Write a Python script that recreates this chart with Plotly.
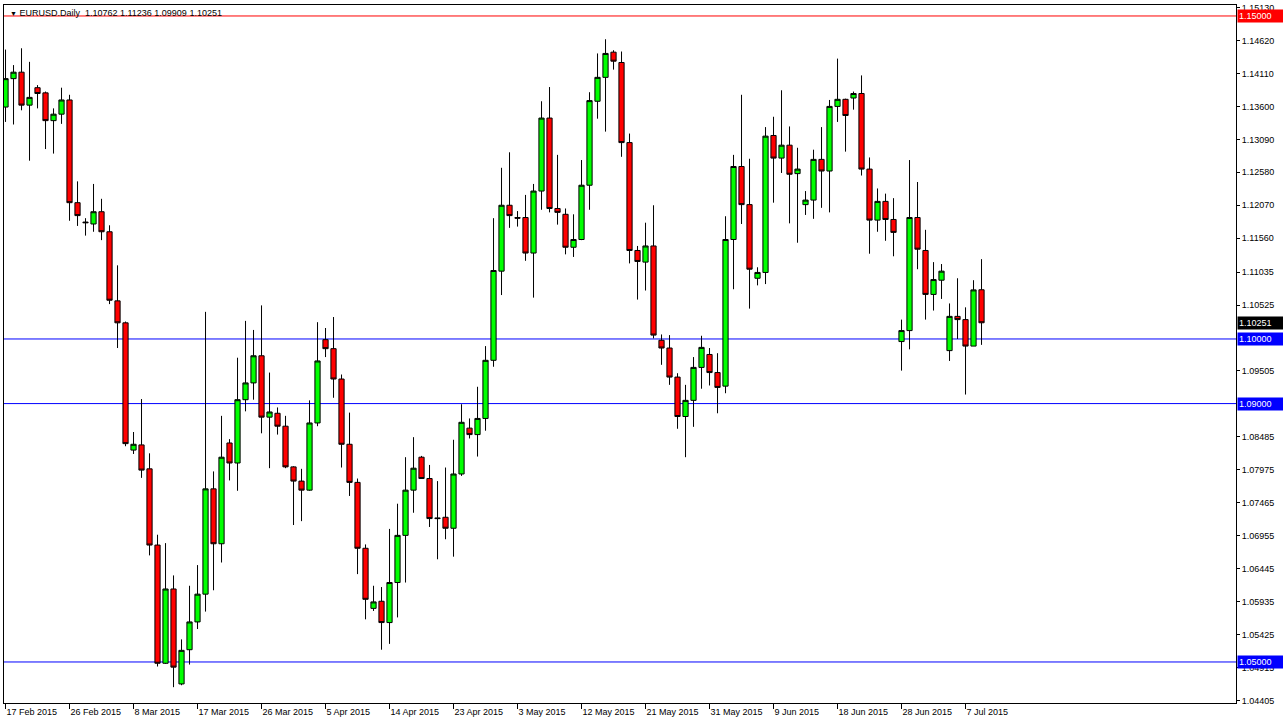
import datetime as dt
import plotly.graph_objects as go

# ---- data (EURUSD daily) ----
opens = [1.1359, 1.1403, 1.1413, 1.1362, 1.1389, 1.1381, 1.1338, 1.1348, 1.1370, 1.1211,
         1.1181, 1.1178, 1.1197, 1.1166, 1.1059, 1.1025, 1.0828, 1.0836, 1.0799, 1.0681,
         1.0498, 1.0613, 1.0466, 1.0519, 1.0562, 1.0605, 1.0768, 1.0683, 1.0839, 1.0808,
         1.0906, 1.0932, 1.0974, 1.0879, 1.0885, 1.0865, 1.0802, 1.0780, 1.0766, 1.0870,
         1.0999, 1.0985, 1.0938, 1.0837, 1.0778, 1.0676, 1.0583, 1.0594, 1.0561, 1.0623,
         1.0696, 1.0766, 1.0817, 1.0784, 1.0723, 1.0724, 1.0707, 1.0791, 1.0862, 1.0852,
         1.0877, 1.0967, 1.1105, 1.1207, 1.1188, 1.1188, 1.1133, 1.1229, 1.1342, 1.1202,
         1.1193, 1.1142, 1.1154, 1.1238, 1.1368, 1.1405, 1.1444, 1.1428, 1.1304, 1.1137,
         1.1119, 1.1144, 1.0998, 1.0986, 1.0941, 1.0880, 1.0905, 1.0956, 1.0976, 1.0948,
         1.0927, 1.1154, 1.1267, 1.1208, 1.1094, 1.1103, 1.1315, 1.1280, 1.1300, 1.1256,
         1.1208, 1.1215, 1.1278, 1.1260, 1.1360, 1.1371, 1.1373, 1.1380, 1.1263, 1.1184,
         1.1213, 1.1185, 1.0996, 1.1013, 1.1188, 1.1137, 1.1069, 1.1091, 1.0982, 1.1035,
         1.1030, 1.0989, 1.10762]
highs = [1.1448, 1.1424, 1.1450, 1.1429, 1.1393, 1.1383, 1.1357, 1.1389, 1.1378, 1.1244,
         1.1187, 1.1240, 1.1217, 1.1176, 1.1114, 1.1027, 1.0856, 1.0907, 1.0823, 1.0697,
         1.0684, 1.0634, 1.0535, 1.0618, 1.0650, 1.1042, 1.0795, 1.0881, 1.0845, 1.0971,
         1.1028, 1.1014, 1.1052, 1.0948, 1.0894, 1.0881, 1.0803, 1.0799, 1.0905, 1.1026,
         1.1017, 1.1034, 1.0945, 1.0886, 1.0784, 1.0682, 1.0618, 1.0616, 1.0706, 1.0745,
         1.0817, 1.0848, 1.0819, 1.0805, 1.0780, 1.0801, 1.0844, 1.0899, 1.0877, 1.0926,
         1.0989, 1.1187, 1.1265, 1.1289, 1.1198, 1.1223, 1.1240, 1.1368, 1.1390, 1.1285,
         1.1202, 1.1193, 1.1277, 1.1382, 1.1442, 1.1464, 1.1447, 1.1445, 1.1318, 1.1144,
         1.1180, 1.1207, 1.1007, 1.1006, 1.0947, 1.0929, 1.0972, 1.1005, 1.0986, 1.0978,
         1.1190, 1.1285, 1.1378, 1.1279, 1.1111, 1.1328, 1.1344, 1.1385, 1.1329, 1.1296,
         1.1229, 1.1293, 1.1328, 1.1370, 1.1434, 1.1372, 1.1383, 1.1408, 1.1281, 1.1233,
         1.1225, 1.1218, 1.1030, 1.1277, 1.1243, 1.1169, 1.1119, 1.1116, 1.1055, 1.1094,
         1.1049, 1.1091, 1.11236]
lows = [1.1336, 1.1332, 1.1354, 1.1276, 1.1357, 1.1294, 1.1287, 1.1333, 1.1183, 1.1175,
        1.1160, 1.1166, 1.1153, 1.1054, 1.0986, 1.0834, 1.0822, 1.0785, 1.0665, 1.0493,
        1.0497, 1.0461, 1.0464, 1.0496, 1.0551, 1.0578, 1.0611, 1.0654, 1.0781, 1.0765,
        1.0888, 1.0906, 1.0854, 1.0800, 1.0852, 1.0800, 1.0712, 1.0718, 1.0765, 1.0865,
        1.0972, 1.0909, 1.0801, 1.0757, 1.0636, 1.0566, 1.0579, 1.0519, 1.0528, 1.0569,
        1.0623, 1.0731, 1.0784, 1.0709, 1.0659, 1.0690, 1.0663, 1.0788, 1.0846, 1.0818,
        1.0858, 1.0957, 1.1068, 1.1172, 1.1174, 1.1121, 1.1064, 1.1200, 1.1196, 1.1177,
        1.1131, 1.1127, 1.1153, 1.1200, 1.1341, 1.1321, 1.1417, 1.1282, 1.1117, 1.1061,
        1.1075, 1.1001, 1.0960, 1.0929, 1.0861, 1.0817, 1.0864, 1.0923, 1.0928, 1.0885,
        1.0916, 1.1077, 1.1178, 1.1047, 1.1083, 1.1085, 1.1211, 1.1257, 1.1179, 1.1149,
        1.1192, 1.1186, 1.1203, 1.1196, 1.1336, 1.1290, 1.1355, 1.1253, 1.1132, 1.1166,
        1.1152, 1.1128, 1.0951, 1.0984, 1.1108, 1.1030, 1.1044, 1.1062, 1.0966, 1.1000,
        1.0914, 1.0989, 1.09909]
closes = [1.1403, 1.1413, 1.1362, 1.1374, 1.1380, 1.1338, 1.1348, 1.1370, 1.1211, 1.1191,
          1.1180, 1.1197, 1.1166, 1.1060, 1.1025, 1.0838, 1.0837, 1.0797, 1.0681, 1.0498,
          1.0613, 1.0492, 1.0518, 1.0562, 1.0605, 1.0768, 1.0683, 1.0817, 1.0808, 1.0906,
          1.0932, 1.0974, 1.0879, 1.0887, 1.0865, 1.0802, 1.0780, 1.0766, 1.0870, 1.0966,
          1.0985, 1.0938, 1.0837, 1.0778, 1.0676, 1.0597, 1.0593, 1.0561, 1.0623, 1.0696,
          1.0766, 1.0800, 1.0784, 1.0722, 1.0722, 1.0707, 1.0791, 1.0871, 1.0852, 1.0877,
          1.0967, 1.1106, 1.1207, 1.1191, 1.1187, 1.1133, 1.1229, 1.1342, 1.1202, 1.1196,
          1.1142, 1.1154, 1.1238, 1.1369, 1.1405, 1.1442, 1.1430, 1.1304, 1.1137, 1.1120,
          1.1144, 1.1006, 1.0986, 1.0941, 1.0880, 1.0905, 1.0956, 1.0987, 1.0948, 1.0925,
          1.1154, 1.1267, 1.1208, 1.1108, 1.1103, 1.1314, 1.1280, 1.1300, 1.1255, 1.1263,
          1.1215, 1.1278, 1.1260, 1.1360, 1.1371, 1.1346, 1.1380, 1.1263, 1.1184, 1.1213,
          1.1185, 1.1165, 1.1013, 1.1188, 1.1139, 1.1069, 1.1092, 1.1105, 1.1035, 1.1030,
          1.0989, 1.1076, 1.10251]

start_date = dt.date(2015, 2, 17)
level_lines = [1.15, 1.10, 1.09, 1.05]
level_colors = ["#FF0000", "#0000FF", "#0000FF", "#0000FF"]
price_ticks = [1.15130, 1.14620, 1.14110, 1.13600, 1.13090, 1.12580, 1.12070, 1.11560,
               1.11035, 1.10525, 1.09505, 1.08485, 1.07975, 1.07465, 1.06955, 1.06445,
               1.05935, 1.05425, 1.04915, 1.04405]
symbol_title = "EURUSD.Daily"

# trading days (broker has Sunday bars, no Saturday bars)
dates = []
d = start_date
while len(dates) < len(opens):
    if d.weekday() != 5:
        dates.append(d)
    d += dt.timedelta(days=1)
idx = list(range(len(dates)))
tick_idx = idx[::8]
tick_txt = [f"{dates[i].day} {dates[i].strftime('%b %Y')}" for i in tick_idx]

FONT = "Liberation Sans, Arial, sans-serif"

fig = go.Figure()
fig.add_trace(go.Candlestick(
    x=idx, open=opens, high=highs, low=lows, close=closes,
    increasing=dict(fillcolor="#00FF00", line=dict(color="#000000", width=1)),
    decreasing=dict(fillcolor="#FF0000", line=dict(color="#000000", width=1)),
    whiskerwidth=0, hoverinfo="skip", showlegend=False,
))

for lv, col in zip(level_lines, level_colors):
    fig.add_shape(type="line", xref="paper", x0=0, x1=1, yref="y", y0=lv, y1=lv,
                  line=dict(color=col, width=1), layer="below")

# price labels on right axis
labels = [(1.15, "#FF0000"), (1.10251, "#000000"), (1.10, "#0000FF"),
          (1.09, "#0000FF"), (1.05, "#0000FF")]
for val, col in labels:
    fig.add_annotation(xref="paper", x=1, xanchor="left", xshift=1, yref="y", y=val,
                       text=f"{val:.5f}", showarrow=False, bgcolor=col,
                       font=dict(family=FONT, size=9, color="#FFFFFF"),
                       borderpad=1, width=44, align="left")

last = len(opens) - 1
fig.add_annotation(xref="paper", x=0, xanchor="left", xshift=4, yref="paper", y=1,
                   yanchor="top", yshift=-1, showarrow=False,
                   text=(f"<span style='font-size:7px'>▼</span> {symbol_title}  "
                         f"{opens[last]:.5f} {highs[last]:.5f} {lows[last]:.5f} {closes[last]:.5f}"),
                   font=dict(family=FONT, size=9, color="#000000"))

fig.update_layout(
    width=1283, height=724,
    margin=dict(l=4, r=47, t=5, b=21),
    paper_bgcolor="#FFFFFF", plot_bgcolor="#FFFFFF",
    boxgap=0.35, boxgroupgap=0,
    showlegend=False,
    font=dict(family=FONT, size=9, color="#000000"),
    xaxis=dict(range=[-0.19, 153.81], rangeslider=dict(visible=False),
               tickmode="array", tickvals=tick_idx, ticktext=tick_txt,
               ticks="outside", ticklen=5, tickcolor="#000000", tickwidth=1,
               ticklabelposition="outside right",
               showgrid=False, zeroline=False, showline=True, linecolor="#000000",
               linewidth=1, mirror=True, tickfont=dict(family=FONT, size=9)),
    yaxis=dict(side="right", range=[1.04365, 1.15170],
               tickmode="array", tickvals=price_ticks,
               ticktext=[f"{v:.5f}" for v in price_ticks],
               ticks="outside", ticklen=3, tickcolor="#000000",
               showgrid=False, zeroline=False, showline=True, linecolor="#000000",
               linewidth=1, mirror=True, tickfont=dict(family=FONT, size=9)),
)

fig.write_html("out.html", config={"displayModeBar": False},
               post_script="document.body.style.margin='0';document.body.style.overflow='hidden';")
